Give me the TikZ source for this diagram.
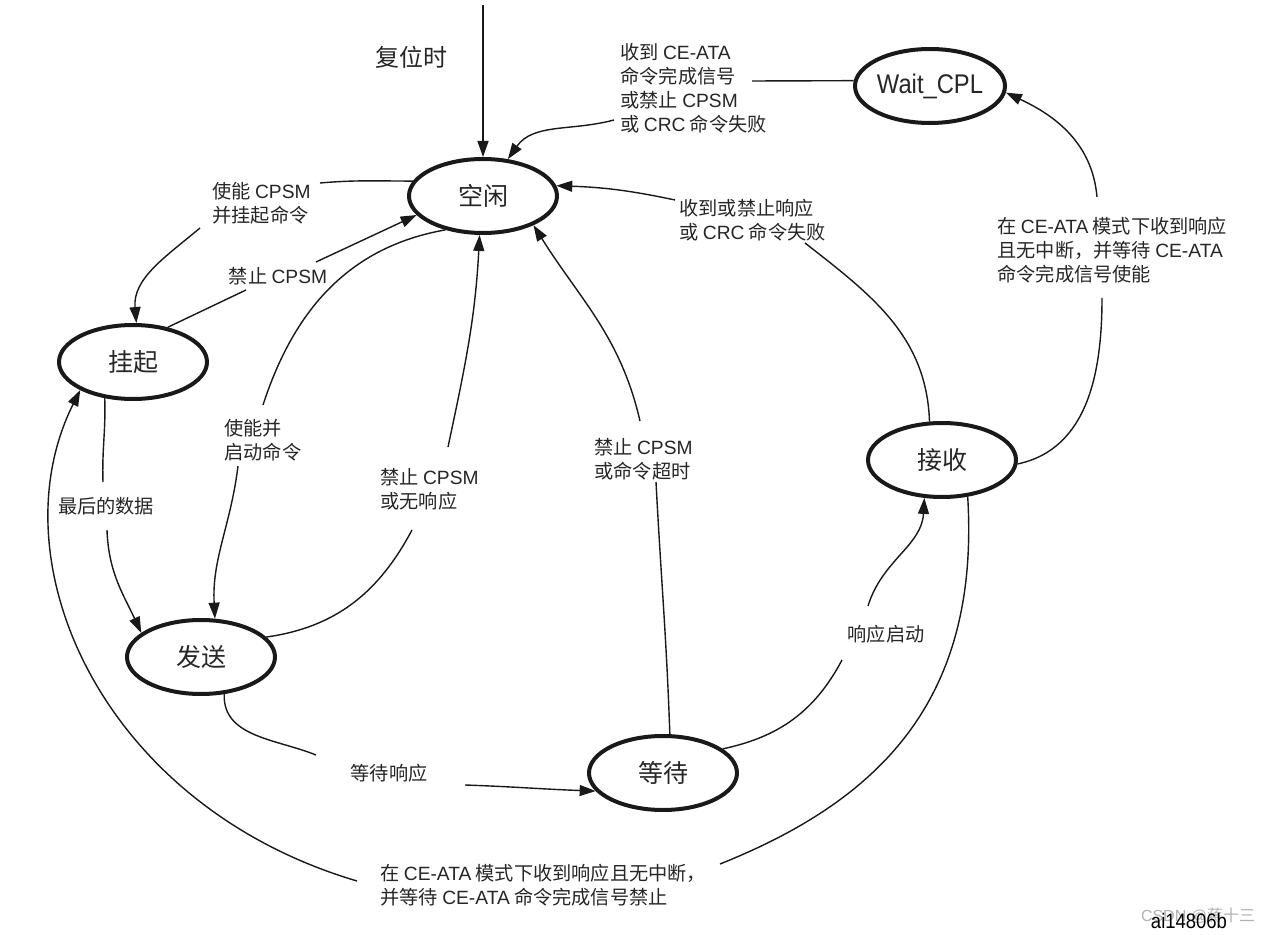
\documentclass[tikz,border=0pt]{standalone}
\usepackage{fontspec}
\setmainfont{Noto Sans CJK SC}
\newfontfamily\latn{Liberation Sans}
\newfontfamily\latnc[FakeStretch=0.88]{Liberation Sans}
\newcommand{\LL}[1]{{\latn #1}}
\usetikzlibrary{shapes.geometric,arrows.meta}
\begin{document}
\begin{tikzpicture}[x=0.5pt,y=-0.5pt,
  state/.style={ellipse,draw=black!90,line width=2pt,minimum width=74pt,minimum height=37pt,inner sep=0pt,font=\fontsize{12.5}{14}\selectfont,text=black!85},
  lab/.style={inner sep=0pt,align=left,font=\fontsize{9.6}{12}\selectfont,text=black!85},
  conn/.style={line width=0.7pt,draw=black!90},
  arr/.style={conn,-{Triangle[length=8pt,width=5.5pt]}},
]
\useasboundingbox[fill=white] (0,0) rectangle (1269,935);

% states
\node[state] (idle) at (483,196) {空闲};
\node[state,font=\latnc\fontsize{13.5}{15}\selectfont] (wait) at (930,86) {Wait\_CPL};
\node[state] (susp) at (133,362) {挂起};
\node[state] (send) at (201,657) {发送};
\node[state] (waitst) at (663,773) {等待};
\node[state] (recv) at (942,460) {接收};

% labels
\node[lab,font=\fontsize{12}{14}\selectfont] (lrst) at (411,57) {复位时};
\node[lab,anchor=west] (lab2) at (620,88) {收到 \LL{CE-ATA}\\命令完成信号\\或禁止 \LL{CPSM}\\或 \LL{CRC} 命令失败};
\node[lab,anchor=west] (lab3) at (212,203) {使能 \LL{CPSM}\\并挂起命令};
\node[lab] (lab4) at (278,276) {禁止 \LL{CPSM}};
\node[lab,anchor=west] (lab5) at (679,220) {收到或禁止响应\\或 \LL{CRC} 命令失败};
\node[lab,anchor=west] (lab6) at (997,250) {在 \LL{CE-ATA} 模式下收到响应\\且无中断，并等待 \LL{CE-ATA}\\命令完成信号使能};
\node[lab,anchor=west] (lab7) at (380,489) {禁止 \LL{CPSM}\\或无响应};
\node[lab,anchor=west] (lab8) at (224,440) {使能并\\启动命令};
\node[lab] (lab9) at (106,506) {最后的数据};
\node[lab,anchor=west] (lab10) at (594,459) {禁止 \LL{CPSM}\\或命令超时};
\node[lab] (lab11) at (389,773) {等待响应};
\node[lab] (lab12) at (886,634) {响应启动};
\node[lab,anchor=west] (lab13) at (380,885) {在 \LL{CE-ATA} 模式下收到响应且无中断，\\并等待 \LL{CE-ATA} 命令完成信号禁止};

\node[inner sep=0pt,text=black!30,font=\fontsize{8}{10}\selectfont] (wm) at (1198,916) {\LL{CSDN @}蒋十三};
\node[inner sep=0pt,font=\latnc\fontsize{10.5}{12}\selectfont] (fig) at (1189,921) {ai14806b};

% break points
\coordinate (rst) at (483,5);
\coordinate (c2a) at (752,81);
\coordinate (c2b) at (614,120);
\coordinate (c3a) at (320,183);
\coordinate (c3b) at (200,228);
\coordinate (c4a) at (246,290);
\coordinate (c4b) at (316,262);
\coordinate (c5a) at (805,243);
\coordinate (c5b) at (675,200);
\coordinate (c6a) at (1102,298);
\coordinate (c6b) at (1097,197);
\coordinate (c7a) at (412,530);
\coordinate (c7b) at (448,447);
\coordinate (c8a) at (263,405);
\coordinate (c8b) at (238,466);
\coordinate (c9a) at (103,482);
\coordinate (c9b) at (107,530);
\coordinate (c10a) at (656,482);
\coordinate (c10b) at (640,421);
\coordinate (c11a) at (316,755);
\coordinate (c11b) at (465,785);
\coordinate (c12a) at (842,660);
\coordinate (c12b) at (868,606);
\coordinate (c13a) at (720,864);
\coordinate (c13b) at (357,881);

% connectors
\draw[arr] (rst) -- (idle.north);

\draw[conn] (wait.176) -- (c2a);
\draw[arr] (c2b) to[out=195,in=55] (idle.56);

\draw[conn] (idle.168) to[out=180,in=5] (c3a);
\draw[arr] (c3b) to[out=220,in=95] (susp.85);

\draw[conn] (susp.45) -- (c4a);
\draw[arr] (c4b) -- (idle.196);

\draw[conn] (recv.108) to[out=92,in=-38] (c5a);
\draw[arr] (c5b) to[out=168,in=-2] (idle.8);

\draw[conn] (recv.-3) to[out=12,in=-90] (c6a);
\draw[arr] (c6b) to[out=95,in=-25] (wait.-5);

\draw[conn] (send.17) to[out=8,in=-118] (c7a);
\draw[arr] (c7b) to[out=78,in=-93] (idle.265);

\draw[conn] (idle.222) to[out=190,in=72] (c8a);
\draw[arr] (c8b) to[out=-97,in=93] (send.70);

\draw[conn] (susp.232) to[out=-88,in=92] (c9a);
\draw[arr] (c9b) to[out=-88,in=115] (send.158);

\draw[conn] (waitst.80) to[out=92,in=-87] (c10a);
\draw[arr] (c10b) to[out=103,in=-58] (idle.-30);

\draw[conn] (send.-58) to[out=-92,in=158] (c11a);
\draw[arr] (c11b) to[out=-2,in=178] (waitst.195);

\draw[conn] (waitst.22) to[out=12,in=-118] (c12a);
\draw[arr] (c12b) to[out=73,in=-93] (recv.245);

\draw[conn] (recv.-55) .. controls (980,700) and (880,800) .. (c13a);
\draw[arr] (c13b) .. controls (100,805) and (-5,560) .. (susp.208);
\end{tikzpicture}
\end{document}
